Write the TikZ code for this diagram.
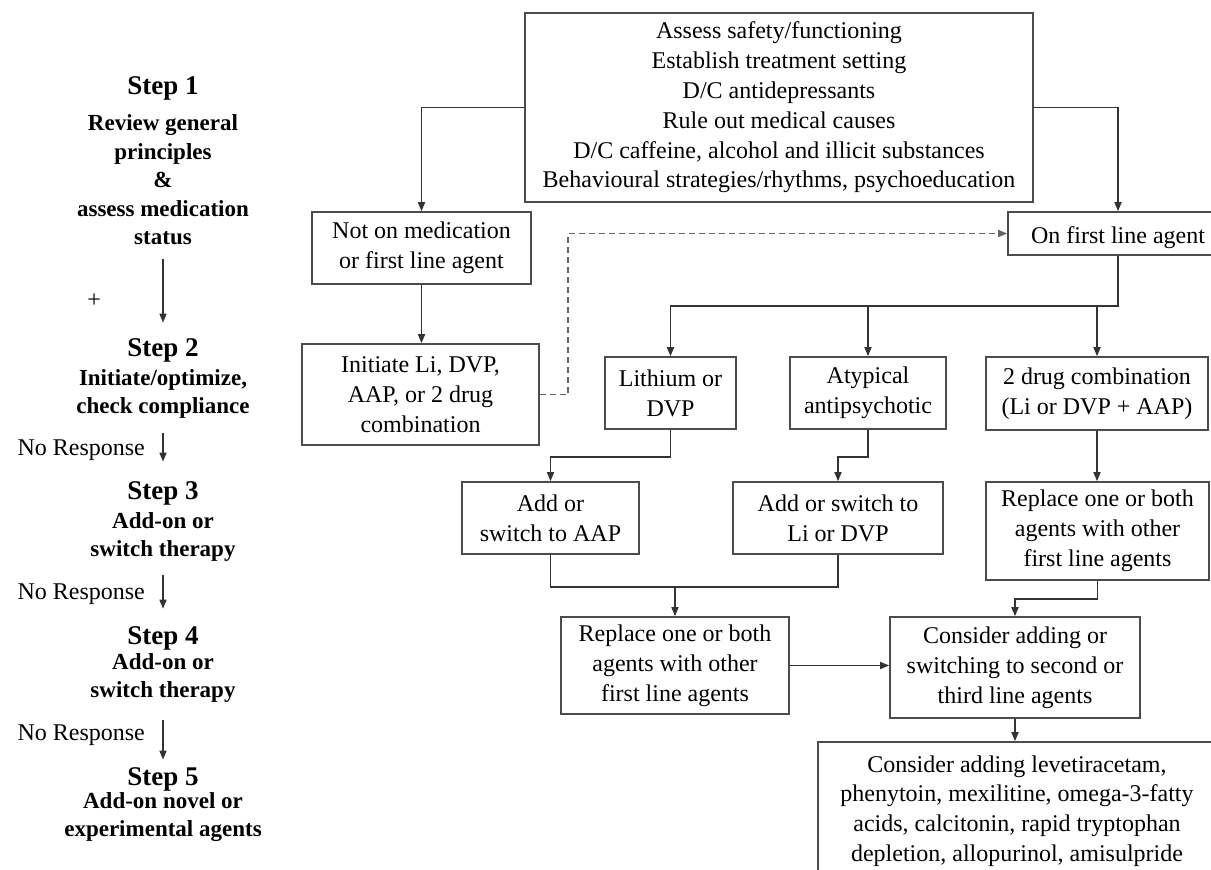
\documentclass[tikz,border=0pt]{standalone}
\usepackage{fontspec}
\setmainfont{Liberation Serif}
\usetikzlibrary{arrows.meta, positioning}

\begin{document}
\begin{tikzpicture}[x=1pt, y=-1pt, >={Triangle[length=9pt, width=7pt]},
    every node/.style={font=\fontsize{24}{29.8}\selectfont},
    box/.style={rectangle, draw=black!70, line width=1.6pt, align=center, inner sep=0pt,
        execute at begin node={\rule{0pt}{25pt}}},
    boxsize/.style 2 args={minimum width=#1pt, minimum height=#2pt},
    wire/.style={line width=1.6pt, draw=black!80},
    link/.style={wire, ->},
    steptitle/.style={font=\fontsize{27}{32}\selectfont\bfseries},
    stepbody/.style={align=center, font=\fontsize{23}{28.5}\selectfont\bfseries},
]
\useasboundingbox (0,0) rectangle (1211,870);
\clip (0,0) rectangle (1211,870);

% Steps (left column)
\node[steptitle] (step1) at (163,88) {Step 1};
\node[stepbody] (step1txt) at (163,180) {Review general\\principles\\\&\\assess medication\\status};
\node[steptitle] (step2) at (163,350) {Step 2};
\node[stepbody] (step2txt) at (163,394) {Initiate/optimize,\\check compliance};
\node[steptitle] (step3) at (163,493) {Step 3};
\node[stepbody] (step3txt) at (163,537) {Add-on or\\switch therapy};
\node[steptitle] (step4) at (163,638) {Step 4};
\node[stepbody] (step4txt) at (163,678) {Add-on or\\switch therapy};
\node[steptitle] (step5) at (163,779) {Step 5};
\node[stepbody] (step5txt) at (163,817) {Add-on novel or\\experimental agents};

\draw[link, shorten <=10pt, shorten >=12pt] (step1txt.south) -- node[pos=0.6, left=58pt] {+} (step2.north);
\draw[link, shorten <=11pt, shorten >=16pt] (step2txt.south) -- node[midway, left=14pt] {No Response} (step3.north);
\draw[link, shorten <=10pt, shorten >=14pt] (step3txt.south) -- node[midway, left=14pt] {No Response} (step4.north);
\draw[link, shorten <=14pt, shorten >=4pt] (step4txt.south) -- node[midway, left=14pt] {No Response} (step5.north);

% Boxes
\node[box, boxsize={508}{189}] (assess) at (779,107.5) {Assess safety/functioning\\Establish treatment setting\\D/C antidepressants\\Rule out medical causes\\D/C caffeine, alcohol and illicit substances\\Behavioural strategies/rhythms, psychoeducation};
\node[box, boxsize={219}{72}] (notmed) at (421.5,248) {Not on medication\\or first line agent};
\node[box, boxsize={237}{101}] (initiate) at (420.5,394.5) {Initiate Li, DVP,\\AAP, or 2 drug\\combination};
\node[box, boxsize={220}{43}] (onfirst) at (1118,233.5) {On first line agent};
\node[box, boxsize={131}{72}] (lith) at (670.5,393) {Lithium or\\DVP};
\node[box, boxsize={156}{72}] (atyp) at (868,393) {Atypical\\antipsychotic};
\node[box, boxsize={222}{73}] (twodrug) at (1097,393.5) {2 drug combination\\(Li or DVP + AAP)};
\node[box, boxsize={177}{72}] (addaap) at (550.5,518) {Add or\\switch to AAP};
\node[box, boxsize={210}{72}] (addli) at (838,518) {Add or switch to\\Li or DVP};
\node[box, boxsize={223}{98}] (replrt) at (1097.5,531) {Replace one or both\\agents with other\\first line agents};
\node[box, boxsize={228}{97}] (repllt) at (675,665.5) {Replace one or both\\agents with other\\first line agents};
\node[box, boxsize={250}{101}] (consider) at (1015,667.5) {Consider adding or\\switching to second or\\third line agents};
\node[box, boxsize={398}{138}] (last) at (1017,811) {Consider adding levetiracetam,\\phenytoin, mexilitine, omega-3-fatty\\acids, calcitonin, rapid tryptophan\\depletion, allopurinol, amisulpride};

% Connectors
\draw[link] (assess.west) -| (notmed.north);
\draw[link] (assess.east) -| (onfirst.north);
\draw[link] (notmed.south) -- (notmed.south |- initiate.north);
\draw[link, draw=black!60, dash pattern=on 6pt off 4pt] (initiate.east) -- ++(28,0) |- (onfirst.west);

\draw[link] (onfirst.south) -- ++(0,50) coordinate (fork) -| (lith.north);
\draw[link] (fork -| atyp.north) -- (atyp.north);
\draw[link] (fork -| twodrug.north) -- (twodrug.north);

\draw[link] (lith.south) -- ++(0,27) -| (addaap.north);
\draw[link] (atyp.south) -- ++(0,27) -| (addli.north);
\draw[link] (twodrug.south) -- (twodrug.south |- replrt.north);

\draw[wire] (addaap.south) -- ++(0,32) coordinate (merge) -| (addli.south);
\draw[link] (merge -| repllt.north) -- (repllt.north);

\draw[link] (replrt.south) -- ++(0,18) -| (consider.north);
\draw[link] (repllt.east) -- (repllt.east -| consider.west);
\draw[link] (consider.south) -- (consider.south |- last.north);

\end{tikzpicture}
\end{document}
